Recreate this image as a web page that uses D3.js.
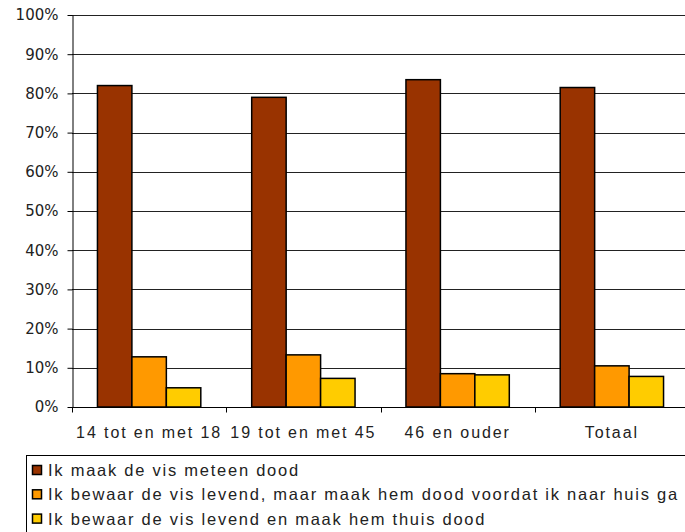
<!DOCTYPE html>
<html>
<head>
<meta charset="utf-8">
<script src="https://cdn.jsdelivr.net/npm/d3@7"></script>
<style>
  body { margin: 0; background: #fff; }
  svg { display: block; }
</style>
</head>
<body>
<div id="chart"></div>
<script>
// categories and series
var categories = ["14 tot en met 18", "19 tot en met 45", "46 en ouder", "Totaal"];
var seriesNames = [
  "Ik maak de vis meteen dood",
  "Ik bewaar de vis levend, maar maak hem dood voordat ik naar huis ga",
  "Ik bewaar de vis levend en maak hem thuis dood"
];
var meteen = [0.82, 0.79, 0.835, 0.815];
var voorHuis = [0.128, 0.133, 0.085, 0.105];
var thuis = [0.049, 0.073, 0.082, 0.078];
var yTicks = [0, 0.1, 0.2, 0.3, 0.4, 0.5, 0.6, 0.7, 0.8, 0.9, 1.0];
var colors = ["#993300", "#FF9900", "#FFCC00"];

var values = [meteen, voorHuis, thuis];
var data = categories.map(function(c, i) {
  return { cat: c, vals: values.map(function(s) { return s[i]; }) };
});

var W = 685, H = 532;
var margin = {top: 15, left: 72};
var plotW = 617, plotH = 392; // right side runs past the window edge

var svg = d3.select("#chart").append("svg")
    .attr("width", W)
    .attr("height", H);

var g = svg.append("g")
    .attr("transform", "translate(" + margin.left + "," + margin.top + ")");

var x0 = d3.scaleBand()
    .domain(categories)
    .range([0, plotW])
    .paddingInner(0.33)
    .paddingOuter(0.165);

var x1 = d3.scaleBand()
    .domain(d3.range(seriesNames.length))
    .range([0, x0.bandwidth()]);

var y = d3.scaleLinear()
    .domain([0, 1])
    .range([plotH, 0]);

// grid lines
g.selectAll(".grid")
    .data(yTicks.slice(1))
    .enter().append("line")
    .attr("class", "grid")
    .attr("x1", 0)
    .attr("x2", plotW)
    .attr("y1", function(d) { return Math.round(y(d)) + 0.5; })
    .attr("y2", function(d) { return Math.round(y(d)) + 0.5; })
    .attr("stroke", "#222")
    .attr("stroke-width", 1);

// y axis
var yAxis = g.append("g")
    .attr("transform", "translate(0.5,0)")
    .call(d3.axisLeft(y).tickValues(yTicks).tickFormat(d3.format(".0%")).tickSize(5).tickSizeOuter(0));
yAxis.select(".domain").attr("stroke", "#000");
yAxis.selectAll(".tick line").attr("stroke", "#000");
yAxis.selectAll(".tick text")
    .attr("x", -14)
    .attr("font-family", "DejaVu Sans, Verdana, sans-serif")
    .attr("font-size", 15)
    .attr("fill", "#222");

// bars
var groups = g.selectAll(".grp")
    .data(data)
    .enter().append("g")
    .attr("class", "grp")
    .attr("transform", function(d) { return "translate(" + x0(d.cat) + ",0)"; });

groups.selectAll("rect")
    .data(function(d) { return d.vals; })
    .enter().append("rect")
    .attr("x", function(d, i) { return x1(i); })
    .attr("width", x1.bandwidth())
    .attr("y", function(d) { return y(d); })
    .attr("height", function(d) { return plotH - y(d); })
    .attr("fill", function(d, i) { return colors[i]; })
    .attr("stroke", "#000")
    .attr("stroke-width", 1.5);

// x axis with ticks between categories
var xAxisG = g.append("g")
    .attr("transform", "translate(0," + (plotH + 0.5) + ")");
xAxisG.append("line")
    .attr("x1", 0).attr("x2", plotW)
    .attr("stroke", "#000");
xAxisG.selectAll(".xtick")
    .data(d3.range(categories.length))
    .enter().append("line")
    .attr("class", "xtick")
    .attr("x1", function(i) { return Math.round(i * x0.step()) + 0.5; })
    .attr("x2", function(i) { return Math.round(i * x0.step()) + 0.5; })
    .attr("y1", 0).attr("y2", 5)
    .attr("stroke", "#000");
xAxisG.selectAll(".xlabel")
    .data(categories)
    .enter().append("text")
    .attr("class", "xlabel")
    .attr("x", function(d) { return x0(d) + x0.bandwidth() / 2; })
    .attr("y", 30)
    .attr("text-anchor", "middle")
    .attr("font-family", "Liberation Sans, Arial, sans-serif")
    .attr("font-size", 16)
    .attr("letter-spacing", 1.9)
    .attr("fill", "#222")
    .text(function(d) { return d; });

// legend
var legend = svg.append("g");
legend.append("rect")
    .attr("x", 26.5).attr("y", 455.5)
    .attr("width", 700).attr("height", 100)
    .attr("fill", "#fff")
    .attr("stroke", "#000");

var items = legend.selectAll(".item")
    .data(seriesNames)
    .enter().append("g")
    .attr("class", "item")
    .attr("transform", function(d, i) { return "translate(0," + (i * 24.3) + ")"; });
items.append("rect")
    .attr("x", 32.5).attr("y", 465.5)
    .attr("width", 9).attr("height", 9)
    .attr("fill", function(d, i) { return colors[i]; })
    .attr("stroke", "#000")
    .attr("stroke-width", 1.5);
items.append("text")
    .attr("x", 48).attr("y", 476)
    .attr("font-family", "Liberation Sans, Arial, sans-serif")
    .attr("font-size", 16.5)
    .attr("letter-spacing", 1.75)
    .attr("fill", "#222")
    .text(function(d) { return d; });
</script>
</body>
</html>
